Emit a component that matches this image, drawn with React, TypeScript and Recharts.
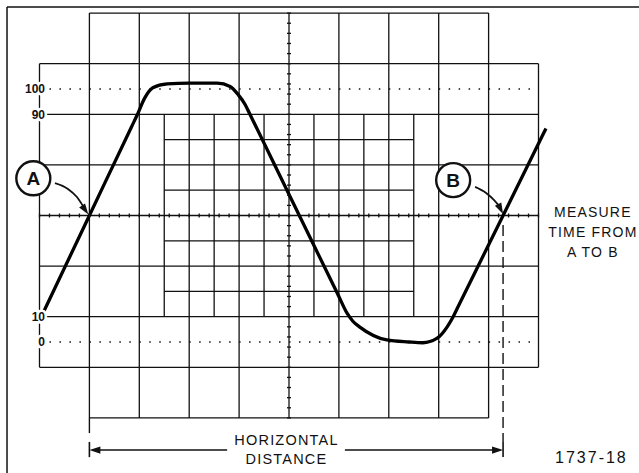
import React from "react";
import {
  ComposedChart,
  XAxis,
  YAxis,
  Line,
  Scatter,
  ReferenceLine,
  ReferenceDot,
} from "recharts";

// x is in graticule divisions, y is in percent of pulse amplitude
const XMIN = -0.7916;
const XMAX = 12.014;
const YMIN = -51.78;
const YMAX = 135.18;

const FONT = '"Liberation Sans", Arial, Helvetica, sans-serif';
const INK = "#111";

// the displayed pulse
const waveX = [0.07, 1.0, 1.85, 1.95, 2.11, 2.27, 2.56, 3.0, 3.56, 3.82, 3.98, 4.12, 4.2, 5.9, 5.98, 6.16, 6.28, 6.42, 6.96, 7.4, 7.68, 7.97, 8.17, 8.29, 8.4, 10.15];
const waveY = [11.4, 50, 85.3, 89.4, 96.5, 100.5, 102, 102.3, 102.3, 101, 97.8, 93.9, 90.7, 22, 18.8, 11.5, 8.2, 5.9, 0.8, 0, -0.3, 1.5, 6, 10, 14.4, 84.4];

// graticule
const majorCols = [1, 2, 3, 4, 5, 6, 7, 8, 9];
const sideCols = [0, 10];
const capRows = [-30, 130];
const majorRows = [-10, 10, 30, 50, 70, 90, 110];
const fineCols = [2.5, 3.5, 4.5, 5.5, 6.5, 7.5];
const fineRows = [20, 40, 60, 80];
const dottedRows = [0, 100];
const levelTicks = [0, 10, 90, 100];

// measurement points A and B
const pointA = { x: 0.98, y: 50.4 };
const pointB = { x: 9.29, y: 50.6 };
const circleA = { x: -0.124, y: 64.7 };
const circleB = { x: 8.29, y: 64.0 };
const arrowAX = [0.31, 0.57, 0.75, 0.87];
const arrowAY = [62.8, 60.5, 57.3, 53.8];
const arrowBX = [8.73, 8.95, 9.11, 9.21];
const arrowBY = [61.3, 58.9, 56.1, 53.8];

const toPoints = (xs: number[], ys: number[]) => xs.map((x, i) => ({ x, y: ys[i] }));
const seg = (x1: number, y1: number, x2: number, y2: number) => [
  { x: x1, y: y1 },
  { x: x2, y: y2 },
];

const wave = toPoints(waveX, waveY);
const arrowA = toPoints(arrowAX, arrowAY);
const arrowB = toPoints(arrowBX, arrowBY);

// small ticks on the centre lines, every 0.2 division
const hTicks = Array.from({ length: 51 }, (_, i) => ({ x: i * 0.2, y: 50 }));
const vTicks = Array.from({ length: 41 }, (_, i) => ({ x: 5, y: -30 + i * 4 }));

const head = (deg: number) => (p: any) => {
  const a = (deg * Math.PI) / 180;
  const L = 11;
  const w = 3.6;
  const dx = Math.cos(a);
  const dy = Math.sin(a);
  const bx = p.cx - dx * L;
  const by = p.cy - dy * L;
  return (
    <polygon
      points={`${p.cx},${p.cy} ${bx - dy * w},${by + dx * w} ${bx + dy * w},${by - dx * w}`}
      fill={INK}
    />
  );
};

const ringed = (letter: string) => (p: any) => (
  <g>
    <circle cx={p.cx} cy={p.cy} r={17} fill="#fff" stroke={INK} strokeWidth={2.4} />
    <text x={p.cx} y={p.cy + 7} textAnchor="middle" fontFamily={FONT} fontWeight={700} fontSize={19} fill={INK}>
      {letter}
    </text>
  </g>
);

const note = (lines: string[], lh: number, size = 14, spacing = 1.2) => (p: any) => (
  <text x={p.cx} y={p.cy} textAnchor="middle" fontFamily={FONT} fontSize={size} letterSpacing={spacing} fill={INK}>
    {lines.map((l, i) => (
      <tspan key={l} x={p.cx} dy={i === 0 ? 0 : lh}>
        {l}
      </tspan>
    ))}
  </text>
);

const LevelTick = ({ y, payload }: any) => (
  <text
    x={45}
    y={y}
    dy={4.3}
    textAnchor="end"
    fontFamily={FONT}
    fontWeight={700}
    fontSize={12}
    fill={INK}
    stroke="#fff"
    strokeWidth={5}
    paintOrder="stroke"
  >
    {payload.value}
  </text>
);

const hTick = (p: any) => <line x1={p.cx} y1={p.cy - 2} x2={p.cx} y2={p.cy + 2} stroke={INK} strokeWidth={1.3} />;
const vTick = (p: any) => <line x1={p.cx - 2} y1={p.cy} x2={p.cx + 2} y2={p.cy} stroke={INK} strokeWidth={1.3} />;

const gridSegs = [
  ...majorCols.map((c) => seg(c, -30, c, 130)),
  ...sideCols.map((c) => seg(c, -10, c, 110)),
  ...capRows.map((r) => seg(1, r, 9, r)),
  ...majorRows.map((r) => seg(0, r, 10, r)),
  ...fineCols.map((c) => seg(c, 10, c, 90)),
  ...fineRows.map((r) => seg(2.5, r, 7.5, r)),
];

export default function App() {
  return (
    <div style={{ position: "absolute", left: 0, top: 0, width: 639, height: 473, background: "#fff" }}>
      <ComposedChart width={639} height={473} margin={{ top: 0, right: 0, bottom: 0, left: 0 }}>
        <XAxis type="number" dataKey="x" domain={[XMIN, XMAX]} allowDataOverflow hide />
        <YAxis
          type="number"
          domain={[YMIN, YMAX]}
          allowDataOverflow
          mirror
          ticks={levelTicks}
          interval={0}
          axisLine={false}
          tickLine={false}
          tick={<LevelTick />}
        />

        {/* outer frame */}
        <ReferenceLine segment={seg(-0.651, 132.4, XMAX, 132.4)} stroke={INK} strokeWidth={1.5} ifOverflow="visible" />
        <ReferenceLine segment={seg(-0.651, 132.4, -0.651, YMIN)} stroke={INK} strokeWidth={1.5} ifOverflow="visible" />

        {gridSegs.map((s, i) => (
          <ReferenceLine key={`g${i}`} segment={s} stroke={INK} strokeWidth={1.3} ifOverflow="visible" />
        ))}
        {dottedRows.map((r) => (
          <ReferenceLine
            key={`d${r}`}
            segment={seg(0, r, 10, r)}
            stroke={INK}
            strokeWidth={1.5}
            strokeDasharray="1.5 8.48"
            ifOverflow="visible"
          />
        ))}
        <Scatter data={hTicks} dataKey="y" shape={hTick} isAnimationActive={false} legendType="none" />
        <Scatter data={vTicks} dataKey="y" shape={vTick} isAnimationActive={false} legendType="none" />

        {/* horizontal distance markers */}
        <ReferenceLine segment={seg(1, -30, 1, -36)} stroke={INK} strokeWidth={1.4} ifOverflow="visible" />
        <ReferenceLine
          segment={seg(pointB.x, 46.2, pointB.x, -39.5)}
          stroke={INK}
          strokeWidth={1.4}
          strokeDasharray="11 5"
          ifOverflow="visible"
        />
        <ReferenceLine segment={seg(1, -39.5, 1, -45.5)} stroke={INK} strokeWidth={1.6} ifOverflow="visible" />
        <ReferenceLine segment={seg(pointB.x, -39.5, pointB.x, -45.5)} stroke={INK} strokeWidth={1.6} ifOverflow="visible" />
        <ReferenceLine segment={seg(1.2, -42.7, 3.76, -42.7)} stroke={INK} strokeWidth={1.6} ifOverflow="visible" />
        <ReferenceLine segment={seg(6.12, -42.7, 9.1, -42.7)} stroke={INK} strokeWidth={1.6} ifOverflow="visible" />
        <ReferenceDot x={1} y={-42.7} r={1} shape={head(180)} ifOverflow="visible" />
        <ReferenceDot x={pointB.x} y={-42.7} r={1} shape={head(0)} ifOverflow="visible" />

        <Line data={wave} dataKey="y" type="monotone" stroke="#000" strokeWidth={3.3} dot={false} activeDot={false} legendType="none" isAnimationActive={false} />

        <Line data={arrowA} dataKey="y" type="monotone" stroke={INK} strokeWidth={1.8} dot={false} activeDot={false} legendType="none" isAnimationActive={false} />
        <Line data={arrowB} dataKey="y" type="monotone" stroke={INK} strokeWidth={1.8} dot={false} activeDot={false} legendType="none" isAnimationActive={false} />
        <ReferenceDot x={pointA.x} y={pointA.y} r={1} shape={head(55)} ifOverflow="visible" />
        <ReferenceDot x={pointB.x} y={pointB.y} r={1} shape={head(63)} ifOverflow="visible" />
        <ReferenceDot x={circleA.x} y={circleA.y} r={17} shape={ringed("A")} ifOverflow="visible" />
        <ReferenceDot x={circleB.x} y={circleB.y} r={17} shape={ringed("B")} ifOverflow="visible" />

        <ReferenceDot x={11.09} y={49.5} r={1} shape={note(["MEASURE", "TIME FROM", "A TO B"], 20)} ifOverflow="visible" />
        <ReferenceDot x={4.95} y={-40.7} r={1} shape={note(["HORIZONTAL", "DISTANCE"], 19, 14.5, 1.2)} ifOverflow="visible" />
        <ReferenceDot x={11.06} y={-47.8} r={1} shape={note(["1737-18"], 0, 16, 2)} ifOverflow="visible" />
      </ComposedChart>
    </div>
  );
}
